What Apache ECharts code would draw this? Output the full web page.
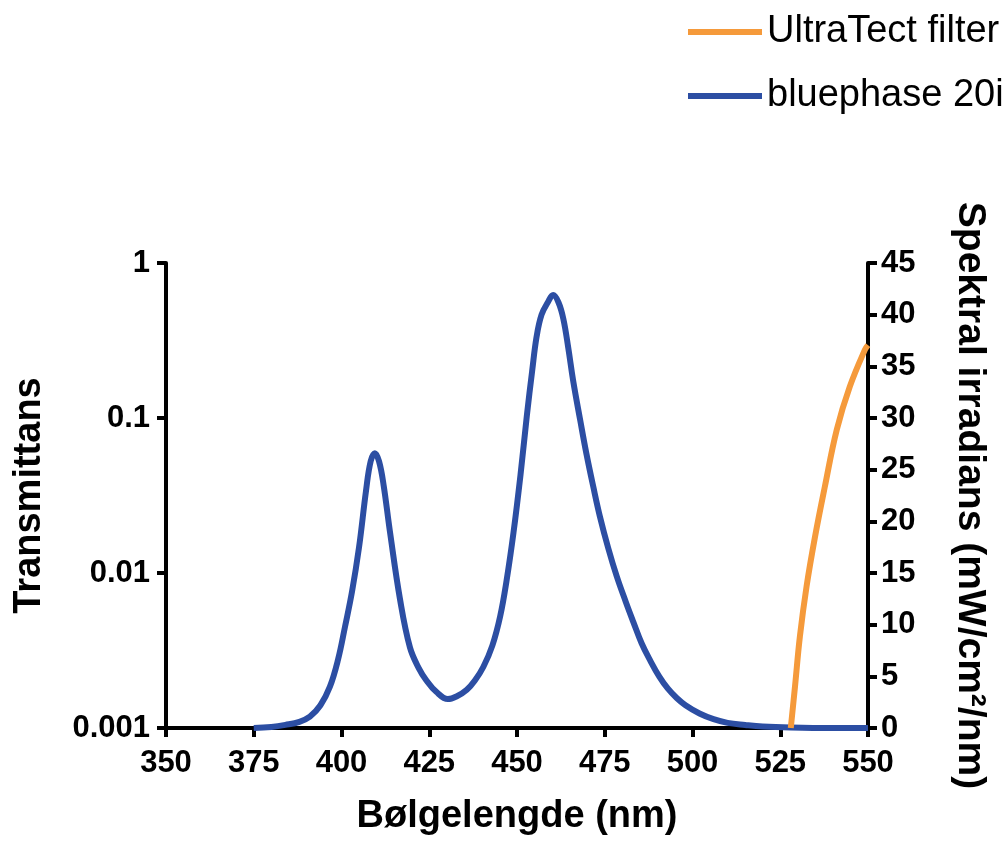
<!DOCTYPE html>
<html>
<head>
<meta charset="utf-8">
<script src="https://cdn.jsdelivr.net/npm/echarts@6/dist/echarts.min.js"></script>
<style>
  html, body { margin: 0; padding: 0; background: #fff; }
  #chart { width: 1002px; height: 841px; }
</style>
</head>
<body>
<div id="chart"></div>
<script>
// bluephase 20i spectrum (right axis, mW/cm2/nm)
const blueNm = [375, 380, 384, 388, 391, 394, 396.7, 399, 401, 403, 405, 407, 408.3, 409.5, 410.7, 412,
  413.8, 416.7, 419.5, 422, 424.2, 427, 430.3, 433, 435.7, 438, 440.4, 443, 445.2, 447, 449, 451, 452.8,
  454.3, 455.6, 457, 458.8, 460.3, 461.8, 463.2, 464.6, 466, 468, 469.8, 471.7, 473.6, 476, 478.4, 481,
  483.1, 485.5, 488, 490.5, 493, 495.5, 498, 502, 506, 510, 515, 520, 528, 540, 550];
const blueIrr = [0, 0.1, 0.3, 0.6, 1.1, 2.2, 4.0, 6.6, 9.8, 13.2, 17.5, 23, 25.8, 26.6, 25.8, 23.5,
  19, 12.4, 7.8, 5.8, 4.6, 3.5, 2.8, 3.1, 3.7, 4.6, 5.9, 8, 10.8, 14.2, 18.9, 24.5, 30.2,
  34.5, 37.9, 40, 41.2, 41.9, 41.2, 39.6, 36.8, 33.6, 29.8, 26.5, 23.4, 20.5, 17.4, 14.7, 12.2,
  10.3, 8.2, 6.5, 5.0, 3.8, 2.9, 2.2, 1.4, 0.85, 0.5, 0.3, 0.15, 0.05, 0, 0];

// UltraTect filter transmittance (left log axis)
const filterNm = [528.0, 529.2, 530.6, 532.5, 534.9, 537.7, 541.1, 544.8, 549.1, 550];
const filterT = [0.001, 0.00185, 0.0039, 0.0082, 0.0171, 0.036, 0.084, 0.159, 0.275, 0.295];

const seriesNames = ['UltraTect filter', 'bluephase 20i'];
const seriesColors = ['#f59a3b', '#2c4ea3'];

const font = "'Liberation Sans', Arial, Helvetica, sans-serif";
const zip = (xs, ys) => xs.map((x, i) => [x, ys[i]]);

const axisLine = { show: true, lineStyle: { color: '#000', width: 4 } };
const axisTick = { show: true, length: 9, lineStyle: { color: '#000', width: 4 } };
const tickFont = { color: '#000', fontFamily: font, fontWeight: 'bold', fontSize: 31 };
const nameFont = { color: '#000', fontFamily: font, fontWeight: 'bold', fontSize: 38 };

const chart = echarts.init(document.getElementById('chart'));
chart.setOption({
  animation: false,
  grid: { left: 166, right: 134, top: 263, bottom: 113 },
  legend: {
    data: seriesNames,
    orient: 'vertical',
    left: 683,
    top: 6,
    icon: 'rect',
    itemWidth: 74,
    itemHeight: 6,
    itemGap: 22,
    textStyle: { color: '#000', fontFamily: font, fontSize: 38, lineHeight: 42 }
  },
  xAxis: {
    type: 'value',
    min: 350,
    max: 550,
    interval: 25,
    name: 'Bølgelengde (nm)',
    nameLocation: 'middle',
    nameGap: 70,
    nameTextStyle: nameFont,
    axisLine, axisTick,
    axisLabel: Object.assign({ margin: 20 }, tickFont),
    splitLine: { show: false }
  },
  yAxis: [
    {
      type: 'log',
      logBase: 10,
      min: 0.001,
      max: 1,
      name: 'Transmittans',
      nameLocation: 'middle',
      nameGap: 117,
      nameTextStyle: nameFont,
      axisLine, axisTick,
      axisLabel: Object.assign({ margin: 16, formatter: v => String(+(+v).toPrecision(3)) }, tickFont),
      splitLine: { show: false }
    },
    {
      type: 'value',
      min: 0,
      max: 45,
      interval: 5,
      position: 'right',
      name: 'Spektral irradians (mW/cm²/nm)',
      nameLocation: 'middle',
      nameRotate: -90,
      nameGap: 82,
      nameTextStyle: Object.assign({}, nameFont, { fontSize: 39 }),
      axisLine, axisTick,
      axisLabel: Object.assign({ margin: 13 }, tickFont),
      splitLine: { show: false }
    }
  ],
  series: [
    {
      name: seriesNames[1],
      type: 'line',
      yAxisIndex: 1,
      data: zip(blueNm, blueIrr),
      smooth: 0.4,
      showSymbol: false,
      color: seriesColors[1],
      lineStyle: { width: 6, color: seriesColors[1] }
    },
    {
      name: seriesNames[0],
      type: 'line',
      yAxisIndex: 0,
      data: zip(filterNm, filterT),
      smooth: 0.4,
      showSymbol: false,
      color: seriesColors[0],
      lineStyle: { width: 6, color: seriesColors[0] }
    }
  ]
});
</script>
</body>
</html>
